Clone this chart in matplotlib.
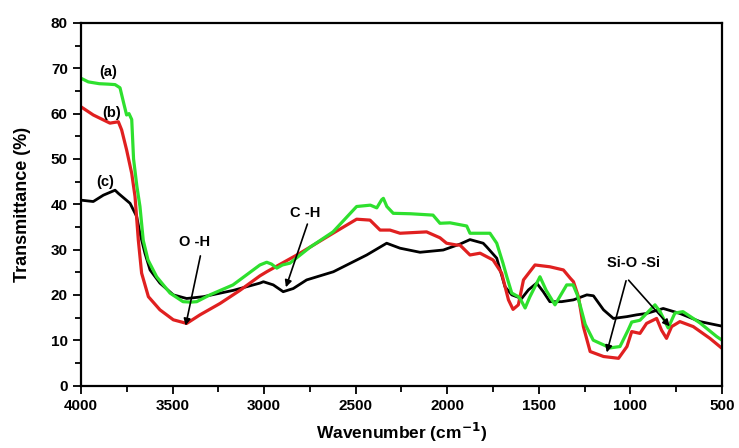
import matplotlib
matplotlib.use("Agg")
import matplotlib.pyplot as plt
from matplotlib.ticker import MultipleLocator

plt.rcParams['font.family'] = ['Liberation Sans', 'DejaVu Sans']

# Sample (a) - green
wn_a = [4000, 3960, 3900, 3850, 3814, 3787, 3765, 3751, 3738, 3723, 3713, 3695, 3678, 3660,
        3634, 3587, 3514, 3443, 3400, 3368, 3296, 3170, 3023, 2986, 2960, 2931, 2900, 2859,
        2750, 2624, 2495, 2420, 2385, 2358, 2349, 2330, 2295, 2200, 2078, 2040, 1985, 1894,
        1876, 1840, 1805, 1767, 1730, 1696, 1675, 1648, 1612, 1600, 1575, 1550, 1494, 1460,
        1412, 1380, 1348, 1313, 1290, 1270, 1247, 1203, 1111, 1057, 1013, 993, 948, 866,
        838, 794, 757, 713, 620, 529, 500]
t_a = [67.8, 67.0, 66.6, 66.5, 66.4, 65.7, 62.0, 59.7, 60.0, 58.7, 50.0, 44.0, 39.5, 32.0,
       27.7, 24.0, 20.4, 18.5, 18.4, 18.5, 20.0, 22.2, 26.6, 27.2, 26.8, 25.9, 26.6, 27.0,
       30.5, 33.9, 39.5, 39.8, 39.2, 41.0, 41.3, 39.5, 38.0, 37.9, 37.6, 35.8, 35.9, 35.2,
       33.6, 33.6, 33.6, 33.6, 31.4, 27.0, 24.0, 20.4, 19.6, 19.0, 17.1, 19.5, 24.0, 21.0,
       17.8, 20.0, 22.2, 22.2, 20.0, 17.0, 13.5, 10.0, 8.3, 8.6, 12.2, 14.0, 14.4, 17.8,
       16.3, 12.7, 16.0, 16.3, 13.8, 10.8, 10.0]

# Sample (b) - red
wn_b = [4000, 3933, 3842, 3796, 3778, 3751, 3723, 3705, 3687, 3669, 3632, 3569, 3496, 3423,
        3350, 3241, 3132, 3023, 2986, 2804, 2624, 2495, 2422, 2367, 2313, 2258, 2113, 2040,
        2004, 1949, 1931, 1876, 1821, 1750, 1703, 1666, 1641, 1612, 1584, 1521, 1440, 1366,
        1329, 1311, 1284, 1257, 1220, 1147, 1065, 1019, 993, 948, 912, 857, 830, 803, 775,
        730, 657, 566, 500]
t_b = [61.5, 59.7, 57.9, 58.2, 56.4, 52.0, 46.8, 41.7, 32.1, 24.8, 19.6, 16.7, 14.5, 13.7,
       15.6, 18.1, 21.0, 24.2, 25.1, 29.2, 33.6, 36.7, 36.5, 34.3, 34.3, 33.6, 33.9, 32.6,
       31.4, 31.0, 31.0, 28.8, 29.2, 27.7, 24.8, 18.9, 16.8, 17.8, 23.3, 26.6, 26.2, 25.5,
       23.7, 22.9, 19.6, 13.0, 7.5, 6.4, 6.0, 8.6, 11.9, 11.5, 13.7, 14.8, 12.2, 10.4, 13.0,
       14.1, 13.0, 10.4, 8.2]

# Sample (c) - black
wn_c = [4000, 3933, 3878, 3814, 3796, 3732, 3696, 3678, 3651, 3623, 3569, 3496, 3423, 3332,
        3168, 3023, 3004, 2950, 2896, 2841, 2768, 2622, 2440, 2331, 2258, 2149, 2022, 1931,
        1876, 1804, 1785, 1730, 1685, 1648, 1594, 1557, 1512, 1476, 1440, 1376, 1311, 1238,
        1202, 1147, 1093, 1019, 965, 912, 821, 730, 620, 500]
t_c = [40.9, 40.6, 42.0, 43.1, 42.4, 40.2, 37.3, 33.6, 29.2, 25.5, 22.6, 20.0, 19.2, 19.6,
       21.0, 22.6, 22.9, 22.2, 20.7, 21.4, 23.3, 25.1, 28.8, 31.4, 30.3, 29.4, 29.9, 31.2,
       32.2, 31.4, 30.6, 28.1, 21.8, 20.0, 19.2, 21.1, 22.6, 20.7, 18.5, 18.5, 18.9, 20.0,
       19.8, 16.7, 14.8, 15.2, 15.6, 15.9, 17.0, 15.9, 14.1, 13.1]

fig = plt.figure(figsize=(7.39, 4.48), dpi=100)
ax = fig.add_axes([0.1096, 0.1395, 0.8674, 0.8092])

ax.plot(wn_c, t_c, color='black', lw=2.0, solid_joinstyle='round')
ax.plot(wn_b, t_b, color='#e02020', lw=2.3, solid_joinstyle='round')
ax.plot(wn_a, t_a, color='#2ee02e', lw=2.3, solid_joinstyle='round')

ax.set_xlim(4000, 500)
ax.set_ylim(0, 80)
ax.xaxis.set_major_locator(MultipleLocator(500))
ax.xaxis.set_minor_locator(MultipleLocator(250))
ax.yaxis.set_major_locator(MultipleLocator(10))
ax.yaxis.set_minor_locator(MultipleLocator(5))
ax.tick_params(which='major', direction='out', length=6, width=1.3, labelsize=11,
               top=False, right=False)
ax.tick_params(which='minor', direction='out', length=4, width=1.3, top=False, right=False)
for lab in ax.get_xticklabels() + ax.get_yticklabels():
    lab.set_fontweight('bold')
for s in ax.spines.values():
    s.set_linewidth(1.6)

ax.set_xlabel('Wavenumber (cm$^{\\mathbf{-1}}$)', fontsize=12.5, fontweight='bold', labelpad=6)
ax.set_ylabel('Transmittance (%)', fontsize=13, fontweight='bold', labelpad=14)

tk = dict(fontsize=10.5, fontweight='bold', ha='center', va='center')
ax.text(3853, 69.2, '(a)', **tk)
ax.text(3832, 60.2, '(b)', **tk)
ax.text(3869, 45.0, '(c)', **tk)

ax.text(3378, 31.7, 'O -H', **tk)
ax.annotate('', xy=(3432, 12.6), xytext=(3345, 29.2),
            arrowprops=dict(arrowstyle='-|>', color='black', lw=1.2, mutation_scale=10))
ax.text(2777, 38.1, 'C -H', **tk)
ax.annotate('', xy=(2886, 21.1), xytext=(2759, 36.2),
            arrowprops=dict(arrowstyle='-|>', color='black', lw=1.2, mutation_scale=10))
ax.text(984, 27.0, 'Si-O -Si', **tk)
ax.annotate('', xy=(1133, 6.7), xytext=(1020, 23.7),
            arrowprops=dict(arrowstyle='-|>', color='black', lw=1.2, mutation_scale=10))
ax.annotate('', xy=(775, 12.6), xytext=(1020, 23.7),
            arrowprops=dict(arrowstyle='-|>', color='black', lw=1.2, mutation_scale=10))

fig.savefig('out.png', dpi=100)
